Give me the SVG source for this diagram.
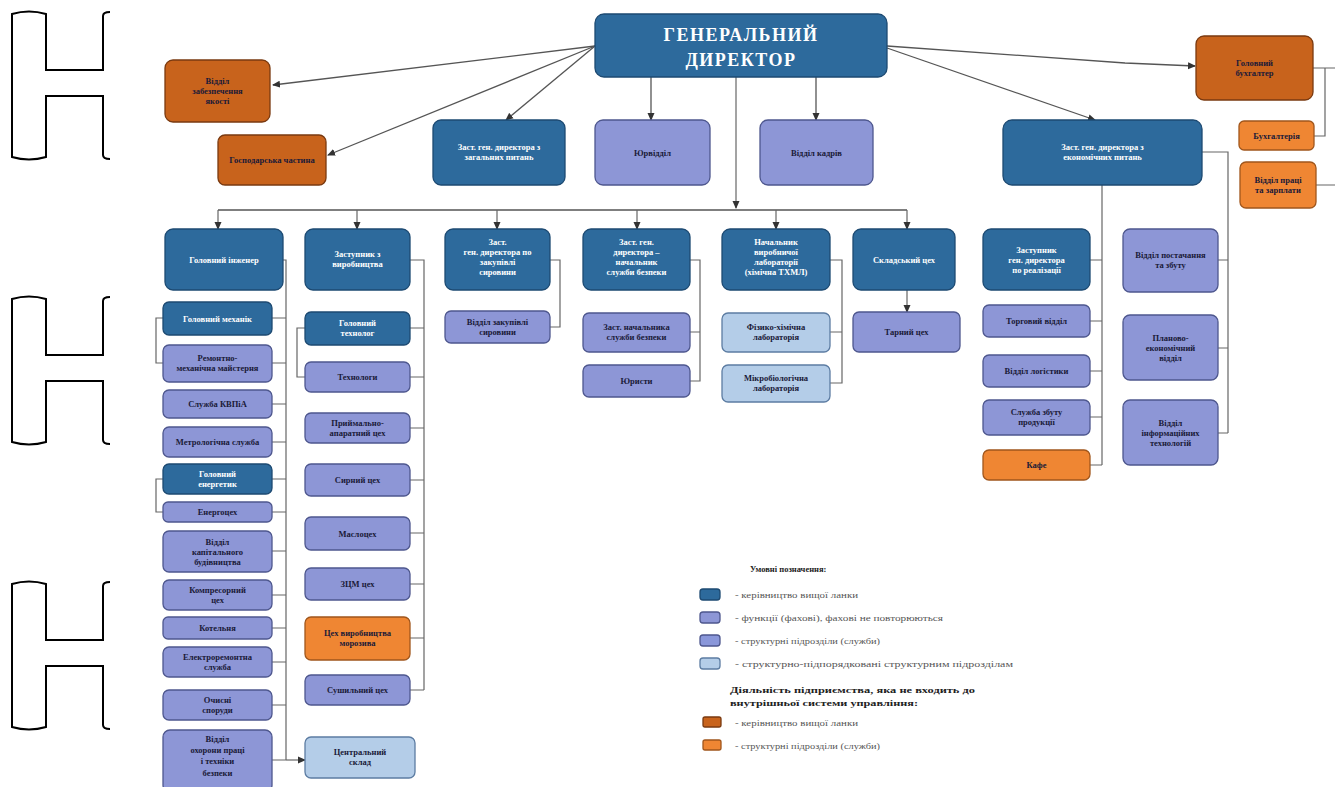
<svg xmlns="http://www.w3.org/2000/svg" width="1335" height="787" viewBox="0 0 1335 787">
<defs>
<marker id="ar" markerWidth="8" markerHeight="8" refX="7" refY="4" orient="auto" markerUnits="userSpaceOnUse"><path d="M0,0.5 L8,4 L0,7.5 z" fill="#333"/></marker>
<style>
.db{fill:#2d6a9c;stroke:#1d4a72;stroke-width:1.3}
.lv{fill:#8d96d6;stroke:#4e578e;stroke-width:1.3}
.lb{fill:#b4cde8;stroke:#5c7ca2;stroke-width:1.3}
.do{fill:#c8631c;stroke:#7a3a10;stroke-width:1.3}
.lo{fill:#ef8633;stroke:#a0561c;stroke-width:1.3}
text{font-family:"Liberation Serif","DejaVu Serif",serif;font-weight:bold;font-size:8.5px;text-anchor:middle}
.tw{fill:#ffffff}
.tk{fill:#1a1a38}
.gd{font-size:18px;letter-spacing:1.5px}
.cn{fill:none;stroke:#555;stroke-width:1.3}
.cl{fill:none;stroke:#666;stroke-width:1.2}
.br{fill:none;stroke:#000;stroke-width:2}
.lg{font-weight:normal;font-size:8px;fill:#555;text-anchor:start}
.lh{font-size:8.5px;fill:#222;text-anchor:start}
</style>
</defs>
<rect width="1335" height="787" fill="#ffffff"/>

<g id="brackets">
<path class="br" d="M110,12 Q103,12 103,16 V70 H46 V14 Q29,9 12,14 V157 Q29,162 46,157 V96 H103 V155 Q103,159 110,159"/>
<path class="br" transform="translate(0,285)" d="M110,12 Q103,12 103,16 V70 H46 V14 Q29,9 12,14 V157 Q29,162 46,157 V96 H103 V155 Q103,159 110,159"/>
<path class="br" transform="translate(0,570)" d="M110,12 Q103,12 103,16 V70 H46 V14 Q29,9 12,14 V157 Q29,162 46,157 V96 H103 V155 Q103,159 110,159"/>
</g>

<g id="connectors">
<path class="cn" d="M595,46 L273,85" marker-end="url(#ar)"/>
<path class="cn" d="M595,46 L328,155" marker-end="url(#ar)"/>
<path class="cn" d="M595,46 L506,120" marker-end="url(#ar)"/>
<path class="cn" d="M887,46 L1125,63 L1195,66" marker-end="url(#ar)"/>
<path class="cn" d="M887,48 L1095,120" marker-end="url(#ar)"/>
<path class="cn" d="M651,77 V120" marker-end="url(#ar)"/>
<path class="cn" d="M816,77 V120" marker-end="url(#ar)"/>
<path class="cl" d="M736,77 V208" marker-end="url(#ar)"/>
<path class="cn" d="M218,210 H907"/>
<path class="cl" d="M218,210 V229" marker-end="url(#ar)"/>
<path class="cl" d="M357,210 V229" marker-end="url(#ar)"/>
<path class="cl" d="M497,210 V229" marker-end="url(#ar)"/>
<path class="cl" d="M637,210 V229" marker-end="url(#ar)"/>
<path class="cl" d="M776,210 V229" marker-end="url(#ar)"/>
<path class="cl" d="M907,210 V229" marker-end="url(#ar)"/>
<!-- left column -->
<path class="cl" d="M283,260 H286 V760"/>
<path class="cl" d="M272,318 H286 M272,363 H286 M272,404 H286 M272,442 H286 M272,479 H286 M272,512 H286 M272,551 H286 M272,595 H286 M272,628 H286 M272,662 H286 M272,705 H286 M272,760 H286"/>
<path class="cl" d="M286,760 H305" marker-end="url(#ar)"/>
<path class="cl" d="M163,318 H156 V363 H163 M163,479 H156 V512 H163"/>
<!-- column 2 -->
<path class="cl" d="M410,260 H424 V690"/>
<path class="cl" d="M410,328 H424 M410,377 H424 M410,428 H424 M410,480 H424 M410,533 H424 M410,584 H424 M410,638 H424 M410,690 H424"/>
<path class="cl" d="M305,328 H297 V377 H305"/>
<!-- column 3 -->
<path class="cl" d="M550,260 H560 V327 H550"/>
<!-- column 4 -->
<path class="cl" d="M690,260 H700 V381 H690 M690,332 H700"/>
<!-- column 5 -->
<path class="cl" d="M830,260 H842 V383 H830 M830,332 H842"/>
<!-- column 6 -->
<path class="cl" d="M907,290 V312" marker-end="url(#ar)"/>
<!-- right -->
<path class="cl" d="M1102,185 V465"/>
<path class="cl" d="M1090,260 H1102 M1090,321 H1102 M1090,371 H1102 M1090,417 H1102 M1090,465 H1102"/>
<path class="cl" d="M1202,152 H1228 V433"/>
<path class="cl" d="M1218,260 H1228 M1218,348 H1228 M1218,433 H1228"/>
<path class="cl" d="M1313,68 H1335 M1325,68 V136 H1314 M1316,185 H1335"/>
</g>

<g id="n_gd"><rect class="db" x="595" y="14" width="292" height="63" rx="9"/><text class="tw gd" x="741" y="41">ГЕНЕРАЛЬНИЙ</text><text class="tw gd" x="741" y="66">ДИРЕКТОР</text></g>
<g id="n_vzy"><rect class="do" x="165" y="60" width="105" height="62" rx="8"/><text class="tk" x="217.5" y="84">Відділ</text><text class="tk" x="217.5" y="94">забезпечення</text><text class="tk" x="217.5" y="104">якості</text></g>
<g id="n_hch"><rect class="do" x="218" y="135" width="108" height="50" rx="7"/><text class="tk" x="272" y="163">Господарська частина</text></g>
<g id="n_zzp"><rect class="db" x="433" y="120" width="132" height="65" rx="8"/><text class="tw" x="499" y="150">Заст. ген. директора з</text><text class="tw" x="499" y="160">загальних питань</text></g>
<g id="n_yur"><rect class="lv" x="595" y="120" width="115" height="65" rx="8"/><text class="tk" x="652.5" y="156">Юрвідділ</text></g>
<g id="n_vk"><rect class="lv" x="760" y="120" width="113" height="65" rx="8"/><text class="tk" x="816.5" y="156">Відділ кадрів</text></g>
<g id="n_gb"><rect class="do" x="1196" y="36" width="117" height="64" rx="8"/><text class="tk" x="1254.5" y="66">Головний</text><text class="tk" x="1254.5" y="76">бухгалтер</text></g>
<g id="n_buh"><rect class="lo" x="1239" y="121" width="75" height="29" rx="5"/><text class="tk" x="1276.5" y="138.5">Бухгалтерія</text></g>
<g id="n_vpz"><rect class="lo" x="1240" y="162" width="76" height="46" rx="6"/><text class="tk" x="1278" y="183">Відділ праці</text><text class="tk" x="1278" y="193">та зарплати</text></g>
<g id="n_zep"><rect class="db" x="1003" y="120" width="199" height="65" rx="9"/><text class="tw" x="1102.5" y="150">Заст. ген. директора з</text><text class="tw" x="1102.5" y="160">економічних питань</text></g>

<g id="n_gi"><rect class="db" x="165" y="229" width="118" height="61" rx="8"/><text class="tw" x="224" y="262.5">Головний інженер</text></g>
<g id="n_zv"><rect class="db" x="305" y="229" width="105" height="61" rx="8"/><text class="tw" x="357.5" y="257">Заступник з</text><text class="tw" x="357.5" y="267">виробництва</text></g>
<g id="n_zzs"><rect class="db" x="445" y="229" width="105" height="61" rx="8"/><text class="tw" x="497.5" y="245">Заст.</text><text class="tw" x="497.5" y="255">ген. директора по</text><text class="tw" x="497.5" y="265">закупівлі</text><text class="tw" x="497.5" y="275">сировини</text></g>
<g id="n_zsb"><rect class="db" x="583" y="229" width="107" height="61" rx="8"/><text class="tw" x="636.5" y="245">Заст. ген.</text><text class="tw" x="636.5" y="255">директора –</text><text class="tw" x="636.5" y="265">начальник</text><text class="tw" x="636.5" y="275">служби безпеки</text></g>
<g id="n_nvl"><rect class="db" x="722" y="229" width="108" height="61" rx="8"/><text class="tw" x="776" y="245">Начальник</text><text class="tw" x="776" y="255">виробничої</text><text class="tw" x="776" y="265">лабораторії</text><text class="tw" x="776" y="275">(хімічна ТХМЛ)</text></g>
<g id="n_sc"><rect class="db" x="853" y="229" width="102" height="61" rx="8"/><text class="tw" x="904" y="262.5">Складський цех</text></g>

<g id="n_gm"><rect class="db" x="163" y="302" width="109" height="33" rx="6"/><text class="tw" x="217.5" y="321.5">Головний механік</text></g>
<g id="n_rmm"><rect class="lv" x="163" y="345" width="109" height="37" rx="6"/><text class="tk" x="217.5" y="361">Ремонтно-</text><text class="tk" x="217.5" y="371">механічна майстерня</text></g>
<g id="n_kvp"><rect class="lv" x="163" y="390" width="109" height="28" rx="6"/><text class="tk" x="217.5" y="407">Служба КВПіА</text></g>
<g id="n_ms"><rect class="lv" x="163" y="427" width="109" height="30" rx="6"/><text class="tk" x="217.5" y="445">Метрологічна служба</text></g>
<g id="n_ge"><rect class="db" x="163" y="464" width="109" height="30" rx="6"/><text class="tw" x="217.5" y="477">Головний</text><text class="tw" x="217.5" y="487">енергетик</text></g>
<g id="n_ec"><rect class="lv" x="163" y="502" width="109" height="20" rx="5"/><text class="tk" x="217.5" y="515">Енергоцех</text></g>
<g id="n_vkb"><rect class="lv" x="163" y="531" width="109" height="41" rx="6"/><text class="tk" x="217.5" y="544.5">Відділ</text><text class="tk" x="217.5" y="554.5">капітального</text><text class="tk" x="217.5" y="564.5">будівництва</text></g>
<g id="n_kc"><rect class="lv" x="163" y="580" width="109" height="30" rx="6"/><text class="tk" x="217.5" y="593">Компресорний</text><text class="tk" x="217.5" y="603">цех</text></g>
<g id="n_kot"><rect class="lv" x="163" y="617" width="109" height="22" rx="5"/><text class="tk" x="217.5" y="631">Котельня</text></g>
<g id="n_ers"><rect class="lv" x="163" y="647" width="109" height="30" rx="6"/><text class="tk" x="217.5" y="660">Електроремонтна</text><text class="tk" x="217.5" y="670">служба</text></g>
<g id="n_os"><rect class="lv" x="163" y="690" width="109" height="30" rx="6"/><text class="tk" x="217.5" y="703">Очисні</text><text class="tk" x="217.5" y="713">споруди</text></g>
<g id="n_vop"><rect class="lv" x="163" y="730" width="109" height="62" rx="7"/><text class="tk" x="217.5" y="742">Відділ</text><text class="tk" x="217.5" y="753">охорони праці</text><text class="tk" x="217.5" y="764">і техніки</text><text class="tk" x="217.5" y="776">безпеки</text></g>
<g id="n_cs"><rect class="lb" x="305" y="737" width="110" height="41" rx="6"/><text class="tk" x="360" y="755">Центральний</text><text class="tk" x="360" y="765">склад</text></g>

<g id="n_gt"><rect class="db" x="305" y="312" width="105" height="33" rx="6"/><text class="tw" x="357.5" y="326">Головний</text><text class="tw" x="357.5" y="336">технолог</text></g>
<g id="n_tech"><rect class="lv" x="305" y="362" width="105" height="30" rx="6"/><text class="tk" x="357.5" y="380">Технологи</text></g>
<g id="n_pac"><rect class="lv" x="305" y="413" width="105" height="30" rx="6"/><text class="tk" x="357.5" y="426">Приймально-</text><text class="tk" x="357.5" y="436">апаратний цех</text></g>
<g id="n_sir"><rect class="lv" x="305" y="464" width="105" height="32" rx="6"/><text class="tk" x="357.5" y="483">Сирний цех</text></g>
<g id="n_mas"><rect class="lv" x="305" y="517" width="105" height="33" rx="6"/><text class="tk" x="357.5" y="536.5">Маслоцех</text></g>
<g id="n_zcm"><rect class="lv" x="305" y="568" width="105" height="32" rx="6"/><text class="tk" x="357.5" y="587">ЗЦМ цех</text></g>
<g id="n_mor"><rect class="lo" x="305" y="617" width="105" height="43" rx="6"/><text class="tk" x="357.5" y="636">Цех виробництва</text><text class="tk" x="357.5" y="646">морозива</text></g>
<g id="n_sush"><rect class="lv" x="305" y="675" width="105" height="30" rx="6"/><text class="tk" x="357.5" y="693">Сушильний цех</text></g>

<g id="n_vzsr"><rect class="lv" x="445" y="311" width="105" height="32" rx="6"/><text class="tk" x="497.5" y="325">Відділ закупівлі</text><text class="tk" x="497.5" y="335">сировини</text></g>
<g id="n_znsb"><rect class="lv" x="583" y="313" width="107" height="39" rx="6"/><text class="tk" x="636.5" y="330">Заст. начальника</text><text class="tk" x="636.5" y="340">служби безпеки</text></g>
<g id="n_yur2"><rect class="lv" x="583" y="365" width="107" height="32" rx="6"/><text class="tk" x="636.5" y="384">Юристи</text></g>
<g id="n_fhl"><rect class="lb" x="722" y="313" width="108" height="39" rx="6"/><text class="tk" x="776" y="330">Фізико-хімічна</text><text class="tk" x="776" y="340">лабораторія</text></g>
<g id="n_mbl"><rect class="lb" x="722" y="365" width="108" height="37" rx="6"/><text class="tk" x="776" y="381">Мікробіологічна</text><text class="tk" x="776" y="391">лабораторія</text></g>
<g id="n_tc"><rect class="lv" x="853" y="312" width="107" height="40" rx="6"/><text class="tk" x="906.5" y="335">Тарний цех</text></g>

<g id="n_zr"><rect class="db" x="983" y="229" width="107" height="61" rx="8"/><text class="tw" x="1036.5" y="252.5">Заступник</text><text class="tw" x="1036.5" y="262.5">ген. директора</text><text class="tw" x="1036.5" y="272.5">по реалізації</text></g>
<g id="n_tv"><rect class="lv" x="983" y="305" width="107" height="32" rx="6"/><text class="tk" x="1036.5" y="324">Торговий відділ</text></g>
<g id="n_vl"><rect class="lv" x="983" y="355" width="107" height="32" rx="6"/><text class="tk" x="1036.5" y="374">Відділ логістики</text></g>
<g id="n_szp"><rect class="lv" x="983" y="400" width="107" height="35" rx="6"/><text class="tk" x="1036.5" y="415">Служба збуту</text><text class="tk" x="1036.5" y="425">продукції</text></g>
<g id="n_kafe"><rect class="lo" x="983" y="450" width="107" height="30" rx="6"/><text class="tk" x="1036.5" y="468">Кафе</text></g>
<g id="n_vps"><rect class="lv" x="1123" y="229" width="95" height="63" rx="7"/><text class="tk" x="1170.5" y="258">Відділ постачання</text><text class="tk" x="1170.5" y="268">та збуту</text></g>
<g id="n_pev"><rect class="lv" x="1123" y="315" width="95" height="65" rx="7"/><text class="tk" x="1170.5" y="340.5">Планово-</text><text class="tk" x="1170.5" y="350.5">економічний</text><text class="tk" x="1170.5" y="360.5">відділ</text></g>
<g id="n_vit"><rect class="lv" x="1123" y="400" width="95" height="65" rx="7"/><text class="tk" x="1170.5" y="425.5">Відділ</text><text class="tk" x="1170.5" y="435.5">інформаційних</text><text class="tk" x="1170.5" y="445.5">технологій</text></g>

<g id="legend">
<text class="lh" x="750" y="572">Умовні позначення:</text>
<rect class="db" x="700" y="589" width="20" height="11" rx="3"/>
<rect class="lv" x="700" y="612" width="20" height="11" rx="3"/>
<rect x="700" y="635" width="20" height="11" rx="3" fill="#8a97da" stroke="#4e578e" stroke-width="1.3"/>
<rect class="lb" x="700" y="658" width="20" height="11" rx="3"/>
<text class="lg" x="735" y="598" textLength="123" lengthAdjust="spacingAndGlyphs">- керівництво вищої ланки</text>
<text class="lg" x="735" y="621" textLength="208" lengthAdjust="spacingAndGlyphs">- функції (фахові), фахові не повторюються</text>
<text class="lg" x="735" y="644" textLength="145" lengthAdjust="spacingAndGlyphs">- структурні підрозділи (служби)</text>
<text class="lg" x="735" y="667" textLength="278" lengthAdjust="spacingAndGlyphs">- структурно-підпорядковані структурним підрозділам</text>
<text class="lh" x="730" y="693" textLength="245" lengthAdjust="spacingAndGlyphs">Діяльність підприємства, яка не входить до</text>
<text class="lh" x="730" y="706" textLength="188" lengthAdjust="spacingAndGlyphs">внутрішньої системи управління:</text>
<rect class="do" x="703" y="717" width="18" height="10" rx="2"/>
<rect class="lo" x="703" y="740" width="18" height="10" rx="2"/>
<text class="lg" x="735" y="726" textLength="123" lengthAdjust="spacingAndGlyphs">- керівництво вищої ланки</text>
<text class="lg" x="735" y="749" textLength="145" lengthAdjust="spacingAndGlyphs">- структурні підрозділи (служби)</text>
</g>
</svg>
